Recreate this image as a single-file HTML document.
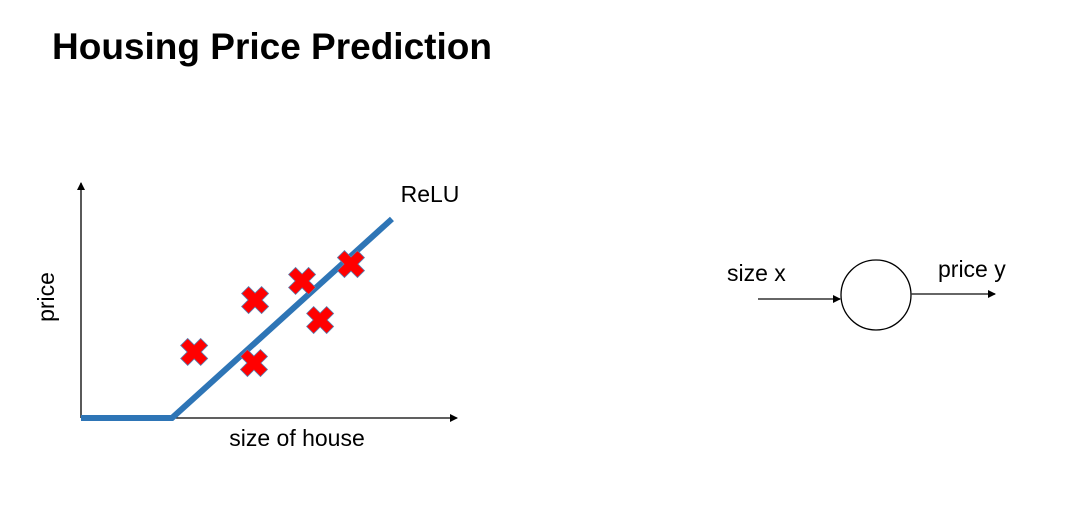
<!DOCTYPE html>
<html><head><meta charset="utf-8"><style>
body{margin:0;background:#fff;width:1090px;height:517px;overflow:hidden;font-family:"Liberation Sans","DejaVu Sans",sans-serif}
</style></head><body>
<svg width="1090" height="517" xmlns="http://www.w3.org/2000/svg">
<defs><marker id="ah" markerWidth="8" markerHeight="8" refX="7" refY="4" orient="auto" markerUnits="userSpaceOnUse"><path d="M0,0L8,4L0,8z" fill="#000"/></marker></defs>
<text x="52" y="59" font-size="37" font-weight="bold" fill="#000">Housing Price Prediction</text>
<g id="chart">
<line x1="81" y1="418" x2="81" y2="183" stroke="#000" stroke-width="1.3" marker-end="url(#ah)"/>
<line x1="81" y1="418" x2="457" y2="418" stroke="#000" stroke-width="1.3" marker-end="url(#ah)"/>
<text x="297" y="446" font-size="23" text-anchor="middle">size of house</text>
<text transform="translate(54,297) rotate(-90)" font-size="23" text-anchor="middle">price</text>
<text x="430" y="202" font-size="23" text-anchor="middle">ReLU</text>
</g>
<g>
<text x="727" y="281" font-size="23">size x</text>
<line x1="758" y1="299" x2="840" y2="299" stroke="#333" stroke-width="1.5" marker-end="url(#ah)"/>
<circle cx="876" cy="295" r="35" fill="none" stroke="#000" stroke-width="1.3"/>
<line x1="911" y1="294" x2="995" y2="294" stroke="#333" stroke-width="1.5" marker-end="url(#ah)"/>
<text x="938" y="277" font-size="23">price y</text>
</g>
</svg>
<script>
const xs=[30.1,46.3,46.0,58.8,63.6,71.8];
const ys=[28.1,50.2,23.4,58.3,41.7,65.5];
const reluX=[0,24.2,82.7];
const reluY=[0,0,84.7];
const sx=v=>81+v*3.76, sy=v=>418-v*2.35;
const NS="http://www.w3.org/2000/svg";
const g=document.getElementById('chart');
const pl=document.createElementNS(NS,'polyline');
pl.setAttribute('points',reluX.map((x,i)=>sx(x)+','+sy(reluY[i])).join(' '));
pl.setAttribute('fill','none');pl.setAttribute('stroke','#2e75b6');pl.setAttribute('stroke-width','6');


g.appendChild(pl);
xs.forEach((x,i)=>{
 const cx=sx(x),cy=sy(ys[i]),a=10,w=7;
 const p=document.createElementNS(NS,'path');
 const d=`M${cx-a-w/2},${cy-a+w/2}L${cx-a+w/2},${cy-a-w/2}L${cx},${cy-w}L${cx+a-w/2},${cy-a-w/2}L${cx+a+w/2},${cy-a+w/2}L${cx+w},${cy}L${cx+a+w/2},${cy+a-w/2}L${cx+a-w/2},${cy+a+w/2}L${cx},${cy+w}L${cx-a+w/2},${cy+a+w/2}L${cx-a-w/2},${cy+a-w/2}L${cx-w},${cy}Z`;
 p.setAttribute('d',d);p.setAttribute('fill','#ff0000');p.setAttribute('stroke','#5a7fb0');p.setAttribute('stroke-width','0.8');
 
 
 g.appendChild(p);
});
</script>
</body></html>
